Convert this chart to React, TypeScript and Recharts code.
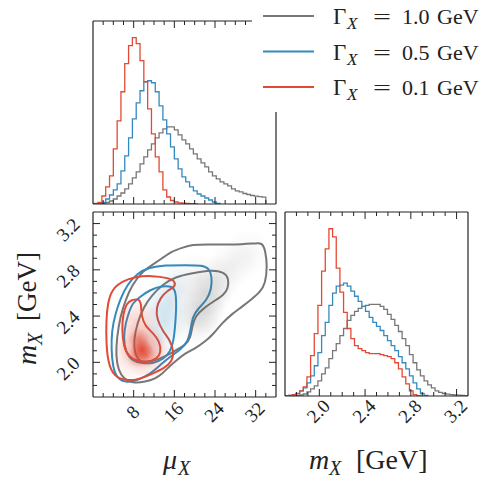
import React from 'react';
import { ComposedChart, Line, Scatter, XAxis, YAxis } from 'recharts';

const GRAY = '#777777';
const BLUE = '#348ABD';
const RED = '#E24A33';
const INK = '#222222';
const SERIF = '"Liberation Serif", "DejaVu Serif", serif';

// mu_X histograms (bins start at 0.25, width 0.75)
const MU_START = 0.25;
const MU_WIDTH = 0.75;
const MU_GRAY = [0, 0.3, 0.7, 1.5, 3, 5, 8, 11, 15, 20, 26, 32, 40, 47, 54, 60, 66, 71, 75, 77, 77, 74, 69, 64, 60, 55, 50, 45, 41, 37, 32, 28, 25, 22, 20, 18, 15, 13, 12, 10.5, 9.5, 8.5, 7.8, 7.3, 6.8];
const MU_BLUE = [0.3, 0.7, 1.7, 5, 9, 14, 20, 33, 48, 66, 85, 101, 113, 122, 123, 121, 112, 98, 84, 70, 57, 45, 35, 27, 22, 17, 13, 10, 8, 6, 4, 2, 0.5];
const MU_RED = [0.7, 1.7, 8, 17, 28, 55, 83, 112, 140, 158, 166, 160, 143, 122, 95, 70, 47, 32, 14, 7, 3.5, 2, 1.2, 0.8, 0.5, 0.3, 0.2];

// m_X histograms (bins start at 1.70, width 0.032)
const M_START = 1.7;
const M_WIDTH = 0.032;
const M_GRAY = [0, 0.2, 0.4, 0.7, 1, 2, 4, 7, 10, 15, 22, 28, 37, 45, 52, 60, 67, 75, 80, 84, 87, 89, 90, 91, 91, 91, 89, 86, 81, 76, 70, 64, 57, 50, 41, 33, 26, 20, 15, 11, 8, 5, 3.5, 2.5, 1.8, 1.3, 1, 0.8, 0.5, 0.3];
const M_BLUE = [0.2, 0.5, 1.3, 2.7, 5, 8, 13, 20, 30, 43, 60, 73, 90, 102, 109, 110, 112, 109, 104, 99, 94, 89, 84, 78, 73, 69, 65, 60, 55, 50, 45, 39, 33, 27, 20, 13, 7, 2.5, 0.5];
const M_RED = [0.3, 0.7, 1.3, 2.3, 5, 9, 19, 40, 62, 90, 124, 146, 166, 158, 127, 103, 83, 67, 57, 50, 47, 45, 43, 42, 42, 42, 41, 40, 39, 37, 33, 27, 19, 12, 5, 1.3, 0.3];

// contours in (mu_X, m_X)
const GRAY_OUTER = [[32.3, 3.03], [33.3, 3.03], [33.9, 2.97], [34.3, 2.83], [33.9, 2.68], [32.9, 2.61], [31.3, 2.55], [29.3, 2.48], [27.4, 2.42], [25.4, 2.34], [23.8, 2.25], [22.1, 2.18], [20.1, 2.12], [18.2, 2.08], [16.5, 2.02], [14.9, 1.96], [13.6, 1.9], [12.3, 1.86], [10.3, 1.83], [7.7, 1.82], [6.0, 1.86], [5.0, 1.93], [4.5, 2.05], [4.7, 2.22], [5.4, 2.4], [6.4, 2.54], [7.7, 2.67], [9.6, 2.78], [11.6, 2.84], [13.6, 2.9], [15.5, 2.96], [17.5, 2.99], [19.5, 3.02], [22.8, 3.02], [26.0, 3.02], [29.3, 3.02]];
const GRAY_INNER = [[16.2, 2.74], [19.5, 2.77], [23.4, 2.8], [25.7, 2.78], [26.7, 2.73], [26.6, 2.64], [25.7, 2.58], [23.8, 2.53], [21.8, 2.47], [20.1, 2.4], [19.5, 2.31], [19.2, 2.21], [18.2, 2.15], [16.5, 2.11], [14.6, 2.06], [12.6, 2.02], [10.6, 2.0], [9.0, 2.01], [8.2, 2.08], [8.0, 2.19], [8.7, 2.34], [10.0, 2.48], [11.6, 2.58], [13.6, 2.67]];
const BLUE_OUTER = [[8.7, 2.77], [11.0, 2.82], [14.2, 2.84], [18.2, 2.84], [21.5, 2.84], [22.9, 2.81], [23.4, 2.74], [23.3, 2.63], [22.4, 2.54], [20.8, 2.47], [19.6, 2.4], [19.2, 2.28], [18.7, 2.18], [17.2, 2.11], [15.2, 2.05], [13.3, 1.98], [11.3, 1.9], [9.0, 1.85], [6.7, 1.82], [4.7, 1.86], [3.9, 1.96], [3.6, 2.11], [3.7, 2.28], [4.4, 2.42], [5.4, 2.55], [6.7, 2.67]];
const BLUE_INNER = [[9.0, 2.56], [11.3, 2.63], [13.6, 2.66], [15.6, 2.66], [16.3, 2.61], [16.4, 2.48], [16.2, 2.34], [15.9, 2.19], [15.2, 2.09], [13.9, 2.03], [11.9, 1.99], [9.7, 1.99], [7.7, 2.01], [6.4, 2.09], [6.0, 2.21], [6.4, 2.34], [7.2, 2.45], [7.8, 2.51]];
const RED_OUTER = [[3.7, 2.63], [5.7, 2.7], [8.3, 2.74], [11.6, 2.75], [14.9, 2.73], [16.2, 2.7], [16.1, 2.65], [14.6, 2.62], [13.3, 2.56], [12.4, 2.47], [12.6, 2.37], [13.7, 2.27], [15.2, 2.19], [15.9, 2.09], [15.6, 2.01], [14.1, 1.95], [11.6, 1.9], [9.0, 1.85], [6.4, 1.84], [4.1, 1.88], [3.0, 1.99], [2.6, 2.16], [2.6, 2.37], [2.9, 2.51]];
const RED_INNER = [[7.6, 2.54], [9.0, 2.55], [9.5, 2.51], [9.5, 2.4], [10.3, 2.31], [11.9, 2.25], [13.1, 2.18], [13.4, 2.09], [12.6, 2.03], [10.6, 2.0], [8.7, 2.01], [7.0, 2.05], [6.0, 2.14], [5.7, 2.28], [5.9, 2.42], [6.6, 2.51]];

// density shading (mu_X, m_X, weight)
const GRAY_DENSITY = [[21.5, 2.45, 0.18], [22.8, 2.6, 0.18], [20.2, 2.35, 0.12], [24.5, 2.72, 0.12], [27.5, 2.85, 0.08], [30.5, 2.95, 0.06], [18, 2.62, 0.07], [20, 2.75, 0.06]];
const BLUE_DENSITY = [[14.2, 2.35, 0.2], [15.0, 2.52, 0.16], [13.0, 2.2, 0.12], [15.5, 2.7, 0.08], [12.5, 2.5, 0.08]];
const RED_DENSITY_BROAD = [[9.5, 2.15, 0.45], [8.6, 2.35, 0.25], [11.2, 2.05, 0.25], [7.6, 2.05, 0.2]];
const RED_DENSITY_CORE = [[9.6, 2.11, 0.85], [9.0, 2.2, 0.45], [10.4, 2.06, 0.4], [8.9, 2.05, 0.35]];

const MU_TICKS = [2, 4, 6, 8, 10, 12, 14, 16, 18, 20, 22, 24, 26, 28, 30, 32, 34];
const MU_LABELS = [8, 16, 24, 32];
const M_TICKS = [1.8, 1.9, 2.0, 2.1, 2.2, 2.3, 2.4, 2.5, 2.6, 2.7, 2.8, 2.9, 3.0, 3.1, 3.2];
const M_LABELS = [2.0, 2.4, 2.8, 3.2];
const LEGEND_WIDTHS = ['1.0', '0.5', '0.1'];

const AXIS_LINE = { stroke: INK, strokeWidth: 1.2 };

function stepData(start: number, width: number, vals: number[]) {
  const pts = [{ x: start, y: 0 }];
  vals.forEach((v, i) => pts.push({ x: start + i * width, y: v }));
  pts.push({ x: start + vals.length * width, y: 0 });
  return pts;
}

const toPts = (arr: number[][]) => arr.map(([x, y, w]) => ({ x, y, w }));

const isMajor = (v: number, majors: number[]) => majors.some((m) => Math.abs(m - v) < 1e-6);

// inward ticks, longer on the labelled values
function makeTick(side: string, majors: number[], labels: boolean, fmt: (v: number) => string) {
  return (props: any) => {
    const { x, y, payload } = props;
    const v = payload.value;
    const major = isMajor(v, majors);
    const len = major ? 7 : 4;
    let x2 = x, y2 = y;
    if (side === 'bottom') y2 = y - len;
    if (side === 'top') y2 = y + len;
    if (side === 'left') x2 = x + len;
    if (side === 'right') x2 = x - len;
    let label = null;
    if (labels && major) {
      const lx = side === 'left' ? x - 25 : x - 1;
      const ly = side === 'left' ? y + 6 : y + 15;
      label = (
        <text x={lx} y={ly} transform={`rotate(-45 ${lx} ${ly})`} textAnchor="middle" dominantBaseline="central"
          fontSize={19} fontFamily={SERIF} fill={INK}>{fmt(v)}</text>
      );
    }
    return (
      <g>
        <line x1={x} y1={y} x2={x2} y2={y2} stroke={INK} strokeWidth={1} />
        {label}
      </g>
    );
  };
}

const fmtMu = (v: number) => String(v);
const fmtM = (v: number) => v.toFixed(1);

function blobShape(color: string, r: number) {
  const id = `blob-${color.slice(1)}`;
  return (props: any) => {
    const { cx, cy, payload } = props;
    return (
      <g>
        <defs>
          <radialGradient id={id}>
            <stop offset="0%" stopColor={color} stopOpacity={1} />
            <stop offset="45%" stopColor={color} stopOpacity={0.55} />
            <stop offset="100%" stopColor={color} stopOpacity={0} />
          </radialGradient>
        </defs>
        <circle cx={cx} cy={cy} r={r} fill={`url(#${id})`} opacity={payload.w} />
      </g>
    );
  };
}

const CHART_W = 482;
const CHART_H = 478;
const layer: React.CSSProperties = { position: 'absolute', left: 0, top: 0 };

const histX = (id: string, side: 'top' | 'bottom', domain: number[], ticks: number[], majors: number[], labels: boolean, fmt: any) => (
  <XAxis xAxisId={id} type="number" dataKey="x" orientation={side} domain={domain} allowDataOverflow
    height={1} ticks={ticks} interval={0} tickLine={false} tickSize={0} tickMargin={0}
    tick={makeTick(side, majors, labels, fmt)} axisLine={AXIS_LINE} />
);

const plainY = (id: string, side: 'left' | 'right', domain: number[]) => (
  <YAxis yAxisId={id} orientation={side} type="number" dataKey="y" domain={domain} allowDataOverflow width={1}
    tick={false} tickLine={false} axisLine={AXIS_LINE} />
);

const stepLine = (data: any[], color: string) => (
  <Line xAxisId="b" yAxisId="l" data={data} dataKey="y" type="stepAfter" stroke={color} strokeWidth={1.3}
    dot={false} activeDot={false} isAnimationActive={false} />
);

function MathLabel({ x, y, main, sub }: { x: number; y: number; main: string; sub: number }) {
  // italic symbol with italic subscript X
  return (
    <g fontFamily={SERIF} fill={INK}>
      <text x={x} y={y} fontSize={28} fontStyle="italic">{main}</text>
      <text x={x + sub} y={y + 6} fontSize={20} fontStyle="italic">X</text>
    </g>
  );
}

export default function App() {
  const muMax = Math.max(...MU_RED) * 1.1;
  const mMax = Math.max(...M_RED) * 1.1;

  return (
    <div style={{ position: 'absolute', left: 0, top: 0, width: CHART_W, height: CHART_H, background: '#fff' }}>
      {/* mu_X marginal */}
      <div style={layer}>
        <ComposedChart width={CHART_W} height={CHART_H} margin={{ top: 20, left: 92, right: 205, bottom: 273 }}>
          {histX('b', 'bottom', [0, 36], MU_TICKS, MU_LABELS, false, fmtMu)}
          {histX('t', 'top', [0, 36], MU_TICKS, MU_LABELS, false, fmtMu)}
          {plainY('l', 'left', [0, muMax])}
          {plainY('r', 'right', [0, muMax])}
          {stepLine(stepData(MU_START, MU_WIDTH, MU_GRAY), GRAY)}
          {stepLine(stepData(MU_START, MU_WIDTH, MU_BLUE), BLUE)}
          {stepLine(stepData(MU_START, MU_WIDTH, MU_RED), RED)}
        </ComposedChart>
      </div>

      {/* joint panel */}
      <div style={layer}>
        <ComposedChart width={CHART_W} height={CHART_H} margin={{ top: 211, left: 92, right: 205, bottom: 80 }}>
          {histX('b', 'bottom', [0, 36], MU_TICKS, MU_LABELS, true, fmtMu)}
          {histX('t', 'top', [0, 36], MU_TICKS, MU_LABELS, false, fmtMu)}
          <YAxis yAxisId="l" type="number" dataKey="y" domain={[1.7, 3.3]} allowDataOverflow width={1} ticks={M_TICKS} interval={0}
            tickLine={false} tickSize={0} tickMargin={0} tick={makeTick('left', M_LABELS, true, fmtM)} axisLine={AXIS_LINE} />
          <YAxis yAxisId="r" orientation="right" type="number" dataKey="y" domain={[1.7, 3.3]} allowDataOverflow width={1} ticks={M_TICKS} interval={0}
            tickLine={false} tickSize={0} tickMargin={0} tick={makeTick('right', M_LABELS, false, fmtM)} axisLine={AXIS_LINE} />
          <Scatter xAxisId="b" yAxisId="l" data={toPts(GRAY_DENSITY)} shape={blobShape('#5a5a5a', 24)} isAnimationActive={false} />
          <Scatter xAxisId="b" yAxisId="l" data={toPts(BLUE_DENSITY)} shape={blobShape(BLUE, 22)} isAnimationActive={false} />
          <Scatter xAxisId="b" yAxisId="l" data={toPts(RED_DENSITY_BROAD)} shape={blobShape(RED, 24)} isAnimationActive={false} />
          <Scatter xAxisId="b" yAxisId="l" data={toPts(RED_DENSITY_CORE)} shape={blobShape('#e0402c', 11)} isAnimationActive={false} />
          {[
            [GRAY_OUTER, GRAY], [GRAY_INNER, GRAY], [BLUE_OUTER, BLUE], [BLUE_INNER, BLUE], [RED_OUTER, RED], [RED_INNER, RED],
          ].map(([pts, color], i) => (
            <Line key={i} xAxisId="b" yAxisId="l" data={toPts(pts as number[][])} dataKey="y" type="basisClosed"
              stroke={color as string} strokeWidth={2} dot={false} activeDot={false} isAnimationActive={false} />
          ))}
        </ComposedChart>
      </div>

      {/* m_X marginal */}
      <div style={layer}>
        <ComposedChart width={CHART_W} height={CHART_H} margin={{ top: 211, left: 284, right: 13, bottom: 81 }}>
          {histX('b', 'bottom', [1.7, 3.3], M_TICKS, M_LABELS, true, fmtM)}
          {histX('t', 'top', [1.7, 3.3], M_TICKS, M_LABELS, false, fmtM)}
          {plainY('l', 'left', [0, mMax])}
          {plainY('r', 'right', [0, mMax])}
          {stepLine(stepData(M_START, M_WIDTH, M_GRAY), GRAY)}
          {stepLine(stepData(M_START, M_WIDTH, M_BLUE), BLUE)}
          {stepLine(stepData(M_START, M_WIDTH, M_RED), RED)}
        </ComposedChart>
      </div>

      {/* legend */}
      <div style={{ position: 'absolute', left: 252, top: 0, width: 230, height: 112, background: '#fff' }}>
        <svg width={230} height={112}>
          {[GRAY, BLUE, RED].map((c, i) => {
            const cy = 16 + i * 35.5;
            const base = cy + 8;
            return (
              <g key={c} fontFamily={SERIF} fill={INK}>
                <line x1={11} x2={62} y1={cy} y2={cy} stroke={c} strokeWidth={2} />
                <text x={81} y={base} fontSize={23}>Γ</text>
                <text x={95} y={base + 5} fontSize={17} fontStyle="italic">X</text>
                <text x={121} y={base} fontSize={22} textLength={18} lengthAdjust="spacingAndGlyphs">=</text>
                <text x={150} y={base} fontSize={22}>{LEGEND_WIDTHS[i]}</text>
                <text x={185} y={base} fontSize={22}>GeV</text>
              </g>
            );
          })}
        </svg>
      </div>

      {/* axis titles */}
      <svg style={{ position: 'absolute', left: 0, top: 0, pointerEvents: 'none' }} width={CHART_W} height={CHART_H}>
        <MathLabel x={163} y={469} main="μ" sub={15} />
        <MathLabel x={309} y={469} main="m" sub={20} />
        <text x={356} y={469} fontFamily={SERIF} fontSize={28} fill={INK}>[GeV]</text>
        <g transform="rotate(-90 36 365)">
          <MathLabel x={36} y={365} main="m" sub={20} />
          <text x={80} y={365} fontFamily={SERIF} fontSize={27} fill={INK}>[GeV]</text>
        </g>
      </svg>
    </div>
  );
}
